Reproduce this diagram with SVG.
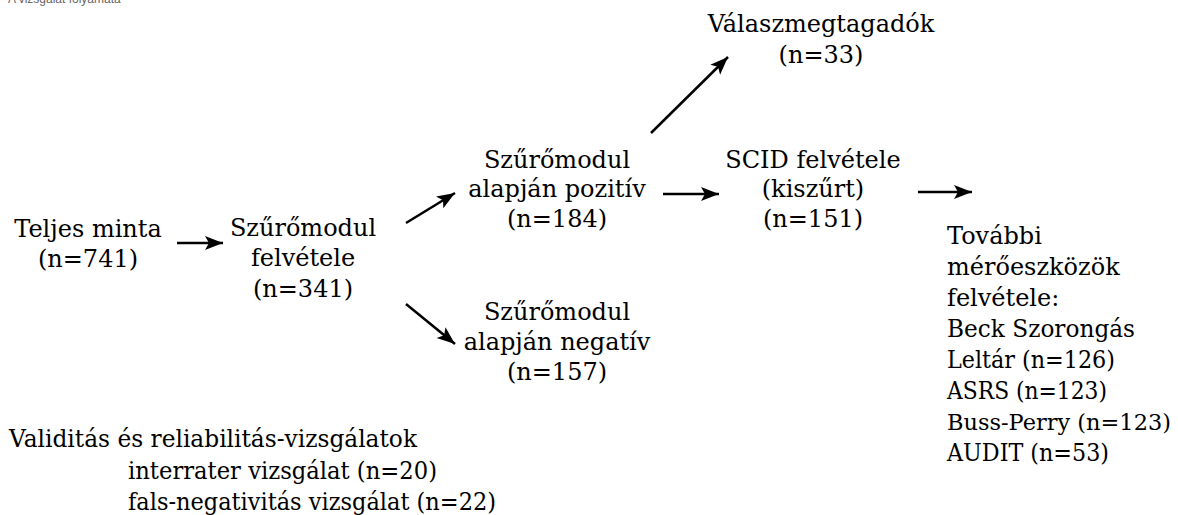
<svg xmlns="http://www.w3.org/2000/svg" width="1178" height="515" viewBox="0 0 1178 515">
<style>
  .t { font-family: "DejaVu Serif", "Liberation Serif", serif; font-size: 24px; fill: #000; }
  .c { text-anchor: middle; }
  .title { font-family: "Liberation Sans", Arial, sans-serif; font-size: 12px; fill: #666; }
  .conn line { stroke: #000; stroke-width: 2.5; marker-end: url(#ah); }
</style>
<defs>
  <marker id="ah" markerUnits="userSpaceOnUse" markerWidth="20" markerHeight="16" refX="18" refY="7" orient="auto">
    <path d="M0,0 L18,7 L0,14 L4,7 Z" fill="#000"/>
  </marker>
</defs>
<rect width="1178" height="515" fill="#fff"/>
<text class="title" x="8" y="3">A vizsgálat folyamata</text>

<g id="teljes">
  <text class="t c" x="88" y="237">Teljes minta</text>
  <text class="t c" x="88" y="267">(n=741)</text>
</g>
<g id="szuromodul">
  <text class="t c" x="303" y="236">Szűrőmodul</text>
  <text class="t c" x="303" y="266">felvétele</text>
  <text class="t c" x="303" y="297">(n=341)</text>
</g>
<g id="pozitiv">
  <text class="t c" x="557" y="168">Szűrőmodul</text>
  <text class="t c" x="557" y="197">alapján pozitív</text>
  <text class="t c" x="557" y="227">(n=184)</text>
</g>
<g id="negativ">
  <text class="t c" x="557" y="320">Szűrőmodul</text>
  <text class="t c" x="557" y="350">alapján negatív</text>
  <text class="t c" x="557" y="380">(n=157)</text>
</g>
<g id="scid">
  <text class="t c" x="813" y="168">SCID felvétele</text>
  <text class="t c" x="813" y="197">(kiszűrt)</text>
  <text class="t c" x="813" y="227">(n=151)</text>
</g>
<g id="valasz">
  <text class="t c" x="821" y="32">Válaszmegtagadók</text>
  <text class="t c" x="821" y="63">(n=33)</text>
</g>
<g id="tovabbi">
  <text class="t" x="947" y="244">További</text>
  <text class="t" x="947" y="275">mérőeszközök</text>
  <text class="t" x="947" y="306">felvétele:</text>
  <text class="t" x="947" y="337" textLength="188" lengthAdjust="spacingAndGlyphs">Beck Szorongás</text>
  <text class="t" x="947" y="368" textLength="168" lengthAdjust="spacingAndGlyphs">Leltár (n=126)</text>
  <text class="t" x="947" y="399" textLength="160" lengthAdjust="spacingAndGlyphs">ASRS (n=123)</text>
  <text class="t" x="947" y="430" style="font-size:22px" textLength="224" lengthAdjust="spacingAndGlyphs">Buss-Perry (n=123)</text>
  <text class="t" x="947" y="461" textLength="162" lengthAdjust="spacingAndGlyphs">AUDIT (n=53)</text>
</g>
<g id="validitas">
  <text class="t" x="9" y="447" textLength="408" lengthAdjust="spacingAndGlyphs">Validitás és reliabilitás-vizsgálatok</text>
  <text class="t" x="128" y="479" textLength="309" lengthAdjust="spacingAndGlyphs">interrater vizsgálat (n=20)</text>
  <text class="t" x="128" y="510" textLength="368" lengthAdjust="spacingAndGlyphs">fals-negativitás vizsgálat (n=22)</text>
</g>

<g id="connectors" class="conn">
  <line x1="177" y1="243" x2="223" y2="243"/>
  <line x1="406" y1="223" x2="455" y2="193"/>
  <line x1="406" y1="304" x2="455" y2="344"/>
  <line x1="651" y1="133" x2="728" y2="57"/>
  <line x1="663" y1="194" x2="719" y2="194"/>
  <line x1="918" y1="192" x2="972" y2="192"/>
</g>
</svg>
